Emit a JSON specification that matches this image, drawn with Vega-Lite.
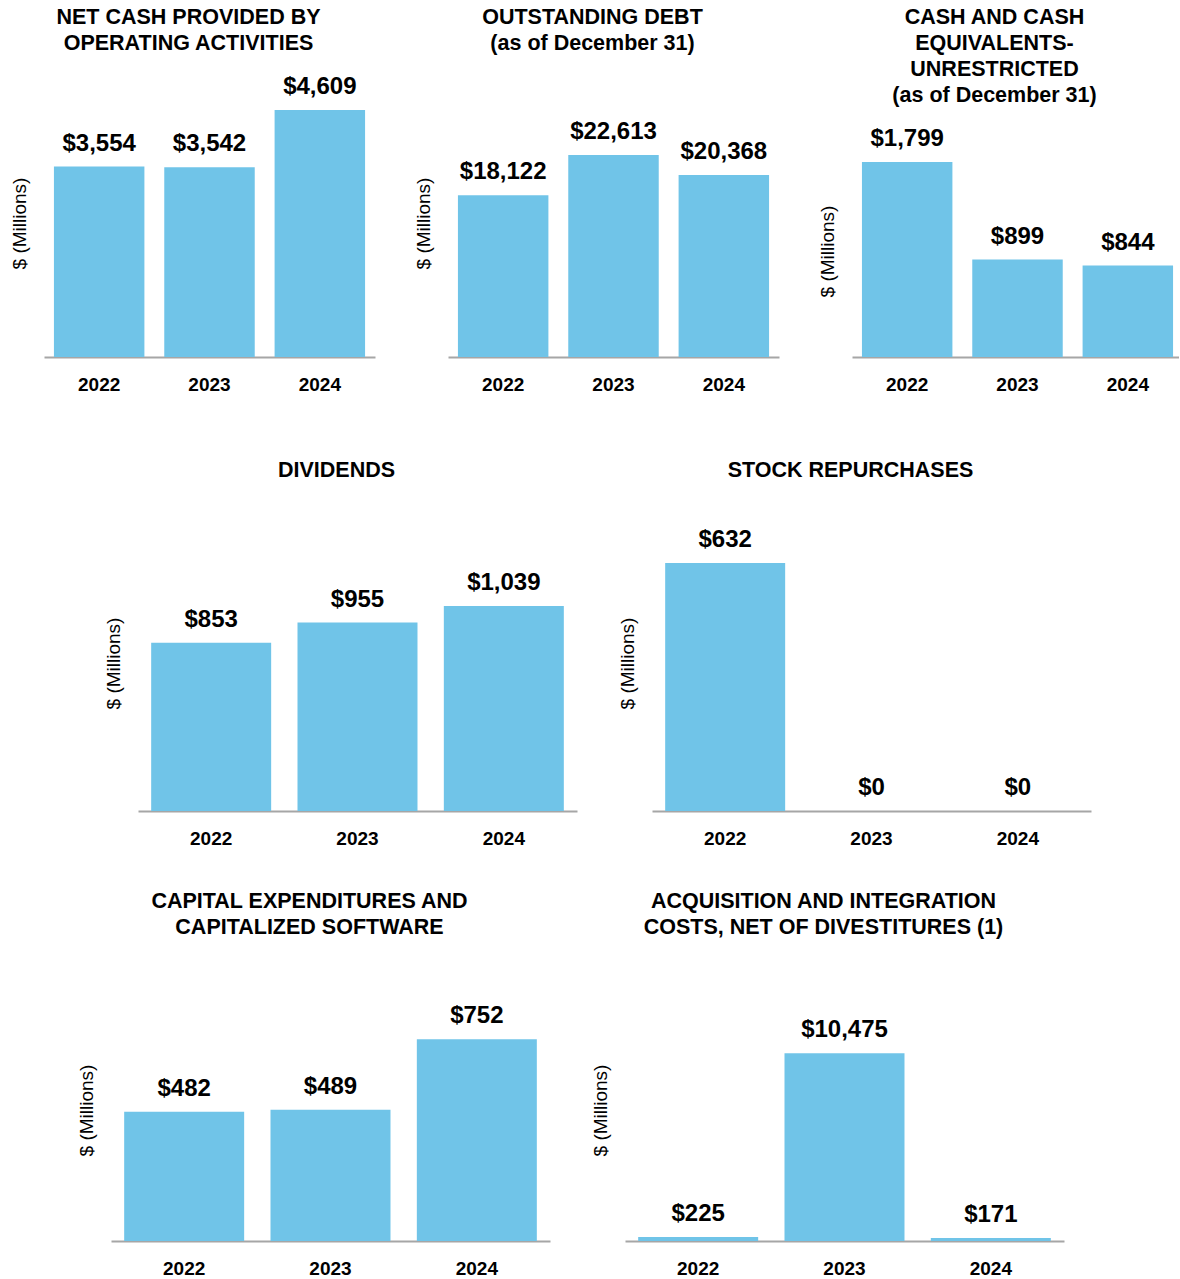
{
  "$schema": "https://vega.github.io/schema/vega-lite/v6.json",
  "background": "white",
  "padding": {"left": 10, "top": 6, "right": 0, "bottom": 0},
  "config": {
    "font": "Liberation Sans",
    "view": {"stroke": null},
    "title": {"font": "Liberation Sans", "fontSize": 21.5, "fontWeight": "bold", "color": "#000000", "lineHeight": 26, "baseline": "alphabetic", "offset": 11, "frame": "bounds", "anchor": "middle", "dx": -4},
    "axisX": {"labelAngle": 0, "ticks": false, "tickSize": 0, "labelPadding": 33, "labelBaseline": "alphabetic", "labelFontSize": 19, "labelFontWeight": "bold", "labelColor": "#000000", "domainColor": "#A6A6A6", "domainWidth": 2, "grid": false},
    "axisY": {"domain": false, "ticks": false, "labels": false, "grid": false, "titleFontSize": 19, "titleFontWeight": "normal", "titleColor": "#000000", "titlePadding": 15},
    "bar": {"color": "#70C4E8"},
    "text": {"fontSize": 24, "fontWeight": "bold", "color": "#000000", "baseline": "alphabetic", "dy": -16}
  },
  "datasets": {
    "netcash": [{"year": "2022", "value": 3554}, {"year": "2023", "value": 3542}, {"year": "2024", "value": 4609}],
    "debt": [{"year": "2022", "value": 18122}, {"year": "2023", "value": 22613}, {"year": "2024", "value": 20368}],
    "cash": [{"year": "2022", "value": 1799}, {"year": "2023", "value": 899}, {"year": "2024", "value": 844}],
    "dividends": [{"year": "2022", "value": 853}, {"year": "2023", "value": 955}, {"year": "2024", "value": 1039}],
    "repurchases": [{"year": "2022", "value": 632}, {"year": "2023", "value": 0}, {"year": "2024", "value": 0}],
    "capex": [{"year": "2022", "value": 482}, {"year": "2023", "value": 489}, {"year": "2024", "value": 752}],
    "acquisition": [{"year": "2022", "value": 225}, {"year": "2023", "value": 10475}, {"year": "2024", "value": 171}]
  },
  "vconcat": [
    {
      "spacing": 65,
      "vconcat": [
        {
          "spacing": 39,
          "hconcat": [
            {
              "width": 331, "height": 292,
              "title": {"text": ["NET CASH PROVIDED BY", "OPERATING ACTIVITIES"]},
              "data": {"name": "netcash"},
              "encoding": {
                "x": {"field": "year", "type": "nominal", "title": null, "scale": {"paddingInner": 0.18, "paddingOuter": 0.09}},
                "y": {"field": "value", "type": "quantitative", "scale": {"domain": [0, 5448], "nice": false}, "axis": {"title": "$ (Millions)", "titleY": 158}}
              },
              "layer": [
                {"mark": "bar"},
                {"mark": "text", "encoding": {"text": {"field": "value", "type": "quantitative", "format": "$,.0f"}}}
              ]
            },
            {
              "width": 331, "height": 292,
              "title": {"text": ["OUTSTANDING DEBT", "(as of December 31)"]},
              "data": {"name": "debt"},
              "encoding": {
                "x": {"field": "year", "type": "nominal", "title": null, "scale": {"paddingInner": 0.18, "paddingOuter": 0.09}},
                "y": {"field": "value", "type": "quantitative", "scale": {"domain": [0, 32690], "nice": false}, "axis": {"title": "$ (Millions)", "titleY": 158}}
              },
              "layer": [
                {"mark": "bar"},
                {"mark": "text", "encoding": {"text": {"field": "value", "type": "quantitative", "format": "$,.0f"}}}
              ]
            },
            {
              "width": 327, "height": 292,
              "title": {"text": ["CASH AND CASH", "EQUIVALENTS-", "UNRESTRICTED", "(as of December 31)"], "offset": -41},
              "data": {"name": "cash"},
              "encoding": {
                "x": {"field": "year", "type": "nominal", "title": null, "scale": {"paddingInner": 0.18, "paddingOuter": 0.072, "align": 0.626}},
                "y": {"field": "value", "type": "quantitative", "scale": {"domain": [0, 2694], "nice": false}, "axis": {"title": "$ (Millions)", "titleY": 186}}
              },
              "layer": [
                {"mark": "bar"},
                {"mark": "text", "encoding": {"text": {"field": "value", "type": "quantitative", "format": "$,.0f"}}}
              ]
            }
          ]
        },
        {
          "spacing": 0,
          "hconcat": [
            {"width": 60, "height": 1, "data": {"values": []}, "mark": "point"},
            {
              "spacing": 41,
              "hconcat": [
                {
                  "width": 439, "height": 319,
                  "title": {"text": "DIVIDENDS"},
                  "data": {"name": "dividends"},
                  "encoding": {
                    "x": {"field": "year", "type": "nominal", "title": null, "scale": {"paddingInner": 0.18, "paddingOuter": 0.09}},
                    "y": {"field": "value", "type": "quantitative", "scale": {"domain": [0, 1617], "nice": false}, "axis": {"title": "$ (Millions)", "titleY": 171}}
                  },
                  "layer": [
                    {"mark": "bar"},
                    {"mark": "text", "encoding": {"text": {"field": "value", "type": "quantitative", "format": "$,.0f"}}}
                  ]
                },
                {
                  "width": 439, "height": 319,
                  "title": {"text": "STOCK REPURCHASES"},
                  "data": {"name": "repurchases"},
                  "encoding": {
                    "x": {"field": "year", "type": "nominal", "title": null, "scale": {"paddingInner": 0.18, "paddingOuter": 0.09}},
                    "y": {"field": "value", "type": "quantitative", "scale": {"domain": [0, 813], "nice": false}, "axis": {"title": "$ (Millions)", "titleY": 171}}
                  },
                  "layer": [
                    {"mark": "bar"},
                    {"mark": "text", "encoding": {"text": {"field": "value", "type": "quantitative", "format": "$,.0f"}}}
                  ]
                }
              ]
            }
          ]
        }
      ]
    },
    {
      "spacing": 0,
      "hconcat": [
        {"width": 33, "height": 1, "data": {"values": []}, "mark": "point"},
        {
          "spacing": 41,
          "hconcat": [
            {
              "width": 439, "height": 292,
              "title": {"text": ["CAPITAL EXPENDITURES AND", "CAPITALIZED SOFTWARE"]},
              "data": {"name": "capex"},
              "encoding": {
                "x": {"field": "year", "type": "nominal", "title": null, "scale": {"paddingInner": 0.18, "paddingOuter": 0.09}},
                "y": {"field": "value", "type": "quantitative", "scale": {"domain": [0, 1088], "nice": false}, "axis": {"title": "$ (Millions)", "titleY": 161}}
              },
              "layer": [
                {"mark": "bar"},
                {"mark": "text", "encoding": {"text": {"field": "value", "type": "quantitative", "format": "$,.0f"}}}
              ]
            },
            {
              "width": 439, "height": 292,
              "title": {"text": ["ACQUISITION AND INTEGRATION", "COSTS, NET OF DIVESTITURES (1)"]},
              "data": {"name": "acquisition"},
              "encoding": {
                "x": {"field": "year", "type": "nominal", "title": null, "scale": {"paddingInner": 0.18, "paddingOuter": 0.09}},
                "y": {"field": "value", "type": "quantitative", "scale": {"domain": [0, 16300], "nice": false}, "axis": {"title": "$ (Millions)", "titleY": 161}}
              },
              "layer": [
                {"mark": "bar"},
                {"mark": "text", "encoding": {"text": {"field": "value", "type": "quantitative", "format": "$,.0f"}}}
              ]
            }
          ]
        }
      ]
    }
  ],
  "spacing": 42
}
